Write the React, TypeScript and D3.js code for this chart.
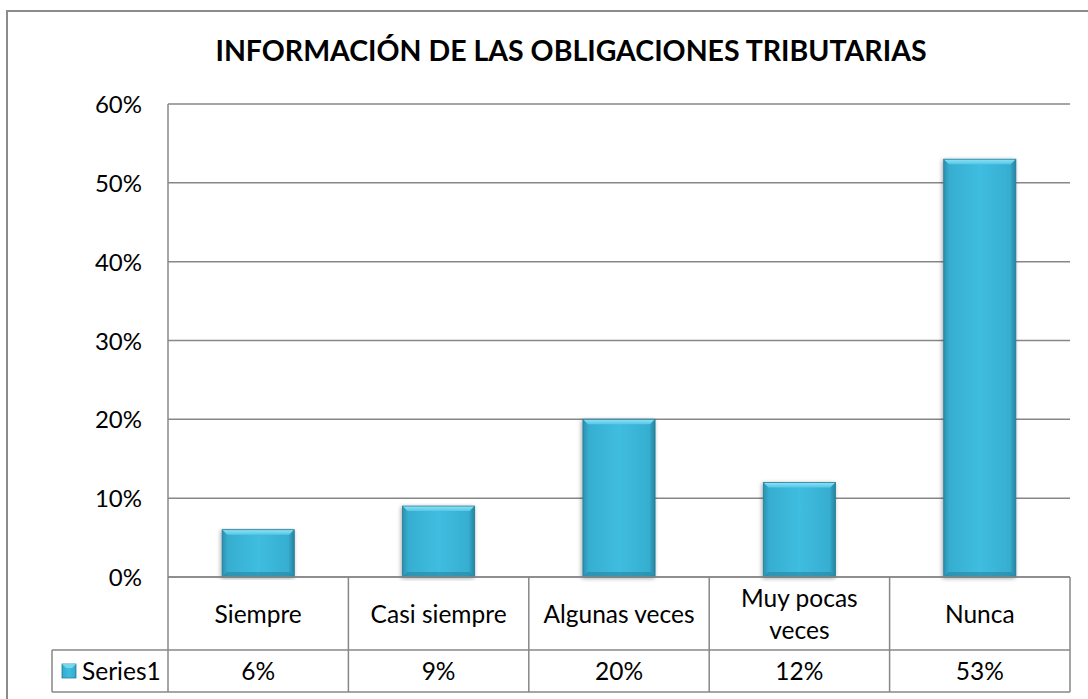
import React from "react";
import * as d3 from "d3";

const categories = ["Siempre", "Casi siempre", "Algunas veces", "Muy pocas veces", "Nunca"];
const categoryLines = [["Siempre"], ["Casi siempre"], ["Algunas veces"], ["Muy pocas", "veces"], ["Nunca"]];
const values = [0.06, 0.09, 0.2, 0.12, 0.53];
const valueLabels = ["6%", "9%", "20%", "12%", "53%"];
const yTicks = [0, 0.1, 0.2, 0.3, 0.4, 0.5, 0.6];
const seriesName = "Series1";
const title = "INFORMACIÓN DE LAS OBLIGACIONES TRIBUTARIAS";

const W = 1088;
const H = 699;
const plotLeft = 168;
const plotRight = 1070;
const plotTop = 104;
const plotBottom = 577;
const catRowBottom = 650;
const tableBottom = 692;
const legendLeft = 52;
const FONT = "Lato, 'Open Sans', sans-serif";
const GRID = "#878787";

export default function App() {
  const x = d3.scaleBand<string>().domain(categories).range([plotLeft, plotRight]).paddingInner(0.6).paddingOuter(0.3);
  const xCol = d3.scaleBand<string>().domain(categories).range([plotLeft, plotRight]);
  const y = d3.scaleLinear().domain([0, 0.6]).range([plotBottom, plotTop]);
  const fmt = d3.format(".0%");
  const bw = x.bandwidth();
  const bev = 5;

  return (
    <svg width={W} height={H} style={{ position: "absolute", left: 0, top: 0, background: "#fff" }}>
      <defs>
        <linearGradient id="barG" x1="0" x2="1" y1="0" y2="0">
          <stop offset="0" stopColor="#2c98b8" />
          <stop offset="0.08" stopColor="#36aed0" />
          <stop offset="0.5" stopColor="#3fbde0" />
          <stop offset="0.92" stopColor="#36aed0" />
          <stop offset="1" stopColor="#2a8eac" />
        </linearGradient>
        <linearGradient id="sideL" x1="0" x2="1">
          <stop offset="0" stopColor="#2b8aa8" />
          <stop offset="1" stopColor="#35a9ca" />
        </linearGradient>
        <linearGradient id="sideR" x1="0" x2="1">
          <stop offset="0" stopColor="#33a3c3" />
          <stop offset="1" stopColor="#24819e" />
        </linearGradient>
        <linearGradient id="topB" x1="0" x2="0" y1="0" y2="1">
          <stop offset="0" stopColor="#8fe2f6" />
          <stop offset="1" stopColor="#55c8e6" />
        </linearGradient>
        <filter id="shadow" x="-20%" y="-5%" width="140%" height="110%">
          <feGaussianBlur in="SourceAlpha" stdDeviation="2" />
          <feOffset dx="-1" dy="1" result="b" />
          <feComponentTransfer>
            <feFuncA type="linear" slope="0.35" />
          </feComponentTransfer>
          <feMerge>
            <feMergeNode />
            <feMergeNode in="SourceGraphic" />
          </feMerge>
        </filter>
      </defs>

      {/* outer border */}
      <rect x={7} y={11} width={W + 10} height={H + 10} fill="none" stroke="#8c8c8c" strokeWidth={2} />

      {/* title */}
      <text x={571} y={61} textAnchor="middle" fontFamily={FONT} fontWeight="bold" fontSize={28.5} fill="#000">
        {title}
      </text>

      {/* gridlines */}
      {yTicks.map((t) => (
        <line key={t} x1={plotLeft} x2={plotRight} y1={y(t)} y2={y(t)} stroke={GRID} strokeWidth={1.5} />
      ))}
      {/* y tick labels */}
      {yTicks.map((t) => (
        <text key={"l" + t} x={142} y={y(t) + 9} textAnchor="end" fontFamily={FONT} fontSize={24} fill="#000">
          {fmt(t)}
        </text>
      ))}

      {/* bars */}
      {categories.map((c, i) => {
        const x0 = x(c)!;
        const y0 = y(values[i]);
        const y1 = plotBottom;
        const x1 = x0 + bw;
        return (
          <g key={c} filter="url(#shadow)">
            <rect x={x0} y={y0} width={bw} height={y1 - y0} fill="url(#barG)" />
            <polygon points={`${x0},${y0} ${x1},${y0} ${x1 - bev},${y0 + bev} ${x0 + bev},${y0 + bev}`} fill="url(#topB)" />
            <polygon points={`${x0},${y0} ${x0 + bev},${y0 + bev} ${x0 + bev},${y1 - bev} ${x0},${y1}`} fill="url(#sideL)" opacity={0.6} />
            <polygon points={`${x1},${y0} ${x1 - bev},${y0 + bev} ${x1 - bev},${y1 - bev} ${x1},${y1}`} fill="url(#sideR)" opacity={0.75} />
            <polygon points={`${x0},${y1} ${x0 + bev},${y1 - bev} ${x1 - bev},${y1 - bev} ${x1},${y1}`} fill="#2784a2" opacity={0.6} />
            <rect x={x0} y={y0} width={bw} height={y1 - y0} fill="none" stroke="#2a7f99" strokeWidth={0.8} />
          </g>
        );
      })}

      {/* left axis line */}
      <line x1={plotLeft} x2={plotLeft} y1={plotTop} y2={tableBottom} stroke={GRID} strokeWidth={1.5} />
      {/* data table lines */}
      <line x1={plotLeft} x2={plotRight} y1={plotBottom} y2={plotBottom} stroke={GRID} strokeWidth={1.5} />
      <line x1={legendLeft} x2={plotRight} y1={catRowBottom} y2={catRowBottom} stroke={GRID} strokeWidth={1.5} />
      <line x1={legendLeft} x2={plotRight} y1={tableBottom} y2={tableBottom} stroke={GRID} strokeWidth={1.5} />
      <line x1={legendLeft} x2={legendLeft} y1={catRowBottom} y2={tableBottom} stroke={GRID} strokeWidth={1.5} />
      {categories.map((c) => (
        <line key={"v" + c} x1={xCol(c)! + xCol.bandwidth()} x2={xCol(c)! + xCol.bandwidth()} y1={plotBottom} y2={tableBottom} stroke={GRID} strokeWidth={1.5} />
      ))}

      {/* category labels */}
      {categories.map((c, i) => {
        const cx = xCol(c)! + xCol.bandwidth() / 2;
        const lines = categoryLines[i];
        const mid = (plotBottom + catRowBottom) / 2;
        return (
          <text key={"c" + c} textAnchor="middle" fontFamily={FONT} fontSize={24.5} fill="#000">
            {lines.map((ln, j) => (
              <tspan key={j} x={cx} y={mid + 9 + (j - (lines.length - 1) / 2) * 32}>
                {ln}
              </tspan>
            ))}
          </text>
        );
      })}

      {/* values row */}
      {categories.map((c, i) => (
        <text key={"vl" + c} x={xCol(c)! + xCol.bandwidth() / 2} y={(catRowBottom + tableBottom) / 2 + 9} textAnchor="middle" fontFamily={FONT} fontSize={24.5} fill="#000">
          {valueLabels[i]}
        </text>
      ))}

      {/* legend key */}
      <g>
        <rect x={62} y={664} width={14} height={14} fill="url(#barG)" stroke="#2a7f99" strokeWidth={0.8} />
        <polygon points="62,664 76,664 72,668 66,668" fill="#74d6f0" />
        <text x={82} y={680} fontFamily={FONT} fontSize={24.5} fill="#000">
          {seriesName}
        </text>
      </g>
    </svg>
  );
}
